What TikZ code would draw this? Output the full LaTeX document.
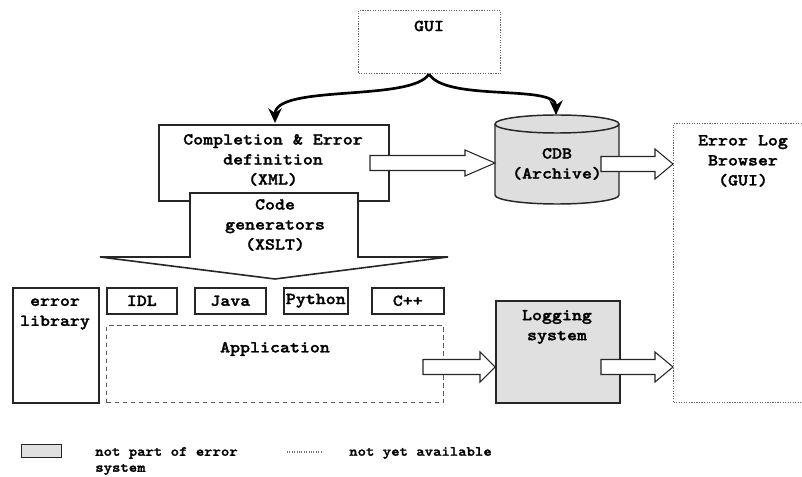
\documentclass[tikz,border=0pt]{standalone}
\usepackage{fontspec}
\newfontfamily\cour{lmmonolt10-bold}[Extension=.otf, FakeStretch=1.14, FakeBold=1.6]
\usetikzlibrary{arrows.meta}
\tikzset{
  txt/.style={font=\fontsize{12.5}{15}\selectfont\cour, align=center, inner sep=0pt},
  legtxt/.style={font=\fontsize{10.5}{12}\selectfont\cour, align=left, inner sep=0pt, anchor=west},
  box/.style={draw=black!85, line width=1.2pt, inner sep=0pt, anchor=north west},
  dotbox/.style={draw=black!60, densely dotted, line width=0.9pt, inner sep=0pt, anchor=north west},
  dashbox/.style={draw=black!65, dash pattern=on 3.5pt off 2.5pt, line width=0.9pt, inner sep=0pt, anchor=north west},
  graybox/.style={box, fill=black!12},
  barr/.style={draw=black!85, fill=white, line width=0.8pt, line join=miter},
  curv/.style={line width=2pt, -{Stealth[length=11pt,width=10pt]}},
}
\newcommand\blockarr[6]{%
  \filldraw[barr] (#1,#4-#5) -- (#2,#4-#5) -- (#2,#4-#6) -- (#3,#4) -- (#2,#4+#6) -- (#2,#4+#5) -- (#1,#4+#5) -- cycle;}
\begin{document}
\begin{tikzpicture}[x=0.75pt,y=-0.75pt]
\useasboundingbox (0,0) rectangle (802,477);
\clip (0,0) rectangle (802,477);
\fill[white] (0,0) rectangle (802,477);

% GUI
\node[dotbox, minimum width=142*0.75pt, minimum height=63*0.75pt] (gui) at (358,10) {};
\node[txt] (guit) at (429,26) {GUI};

% Completion & Error definition
\node[box, line width=1.6pt, minimum width=230*0.75pt, minimum height=76*0.75pt] (comp) at (158,124) {};
\node[txt] (compt) at (273,160) {Completion \& Error\\definition\\(XML)};

% CDB cylinder
\filldraw[draw=black!85, fill=black!13, line width=1.1pt]
  (495,124) -- (495,195) arc[start angle=180, end angle=0, x radius=62, y radius=9]
  -- (619,124) arc[start angle=0, end angle=-180, x radius=62, y radius=9] -- cycle;
\draw[black!85, line width=1.1pt] (495,124) arc[start angle=180, end angle=0, x radius=62, y radius=9];
\coordinate (cdb) at (556,115);
\node[txt] (cdbt) at (557,164) {CDB\\(Archive)};

% curved arrows from GUI
\coordinate (guib) at (429,74);
\coordinate (compn) at (275,123);
\draw[curv] (guib) .. controls (412,102) and (275,84) .. (compn);
\draw[curv] (guib) .. controls (446,102) and (556,84) .. (cdb);

% Code generators arrow
\filldraw[draw=black!85, fill=white, line width=1.2pt, line join=miter]
  (190,193) -- (358,193) -- (358,257) -- (448,257) -- (275,279) -- (100,257) -- (190,257) -- cycle;
\node[txt] (cg) at (275,225) {Code\\generators\\(XSLT)};

% language boxes
\node[box, minimum width=70*0.75pt, minimum height=26*0.75pt] (idl) at (106,287) {};
\node[txt] at (idl.center) {IDL};
\node[box, minimum width=71*0.75pt, minimum height=26*0.75pt] (java) at (194,287) {};
\node[txt] at (java.center) {Java};
\node[box, minimum width=64*0.75pt, minimum height=26*0.75pt] (py) at (283,287) {};
\node[txt] at (py.center) {Python};
\node[box, minimum width=72*0.75pt, minimum height=26*0.75pt] (cpp) at (371,287) {};
\node[txt] at (cpp.center) {C++};

% error library
\node[box, minimum width=86*0.75pt, minimum height=115*0.75pt] (lib) at (12,287) {};
\node[txt] (libt) at (55,314) {error\\library};

% Application
\node[dashbox, minimum width=337*0.75pt, minimum height=77*0.75pt] (app) at (106,325) {};
\node[txt] (appt) at (275,349) {Application};

% Logging system
\node[graybox, minimum width=124*0.75pt, minimum height=102*0.75pt] (log) at (495,300) {};
\node[txt] (logt) at (557,327) {Logging\\system};

% Error log browser
\node[dotbox, minimum width=145*0.75pt, minimum height=279*0.75pt] (elb) at (673,123) {};
\node[txt] (elbt) at (743,161) {Error Log\\Browser\\(GUI)};

% block arrows
\blockarr{370}{465}{495}{163}{7.5}{13}
\blockarr{601}{655}{673}{164}{7.5}{15}
\blockarr{423}{480}{495}{367}{7.5}{15}
\blockarr{601}{655}{673}{367}{7.5}{15}

% legend
\node[graybox, line width=1pt, minimum width=40*0.75pt, minimum height=13*0.75pt] (leg1) at (21,444) {};
\node[legtxt] (leg1t) at (95,461) {not part of error\\system};
\coordinate (d1) at (287,452);
\coordinate (d2) at (323,452);
\draw[black!55, densely dotted, line width=0.8pt] (d1) -- (d2);
\node[legtxt] (leg2t) at (349,453) {not yet available};
\end{tikzpicture}
\end{document}
